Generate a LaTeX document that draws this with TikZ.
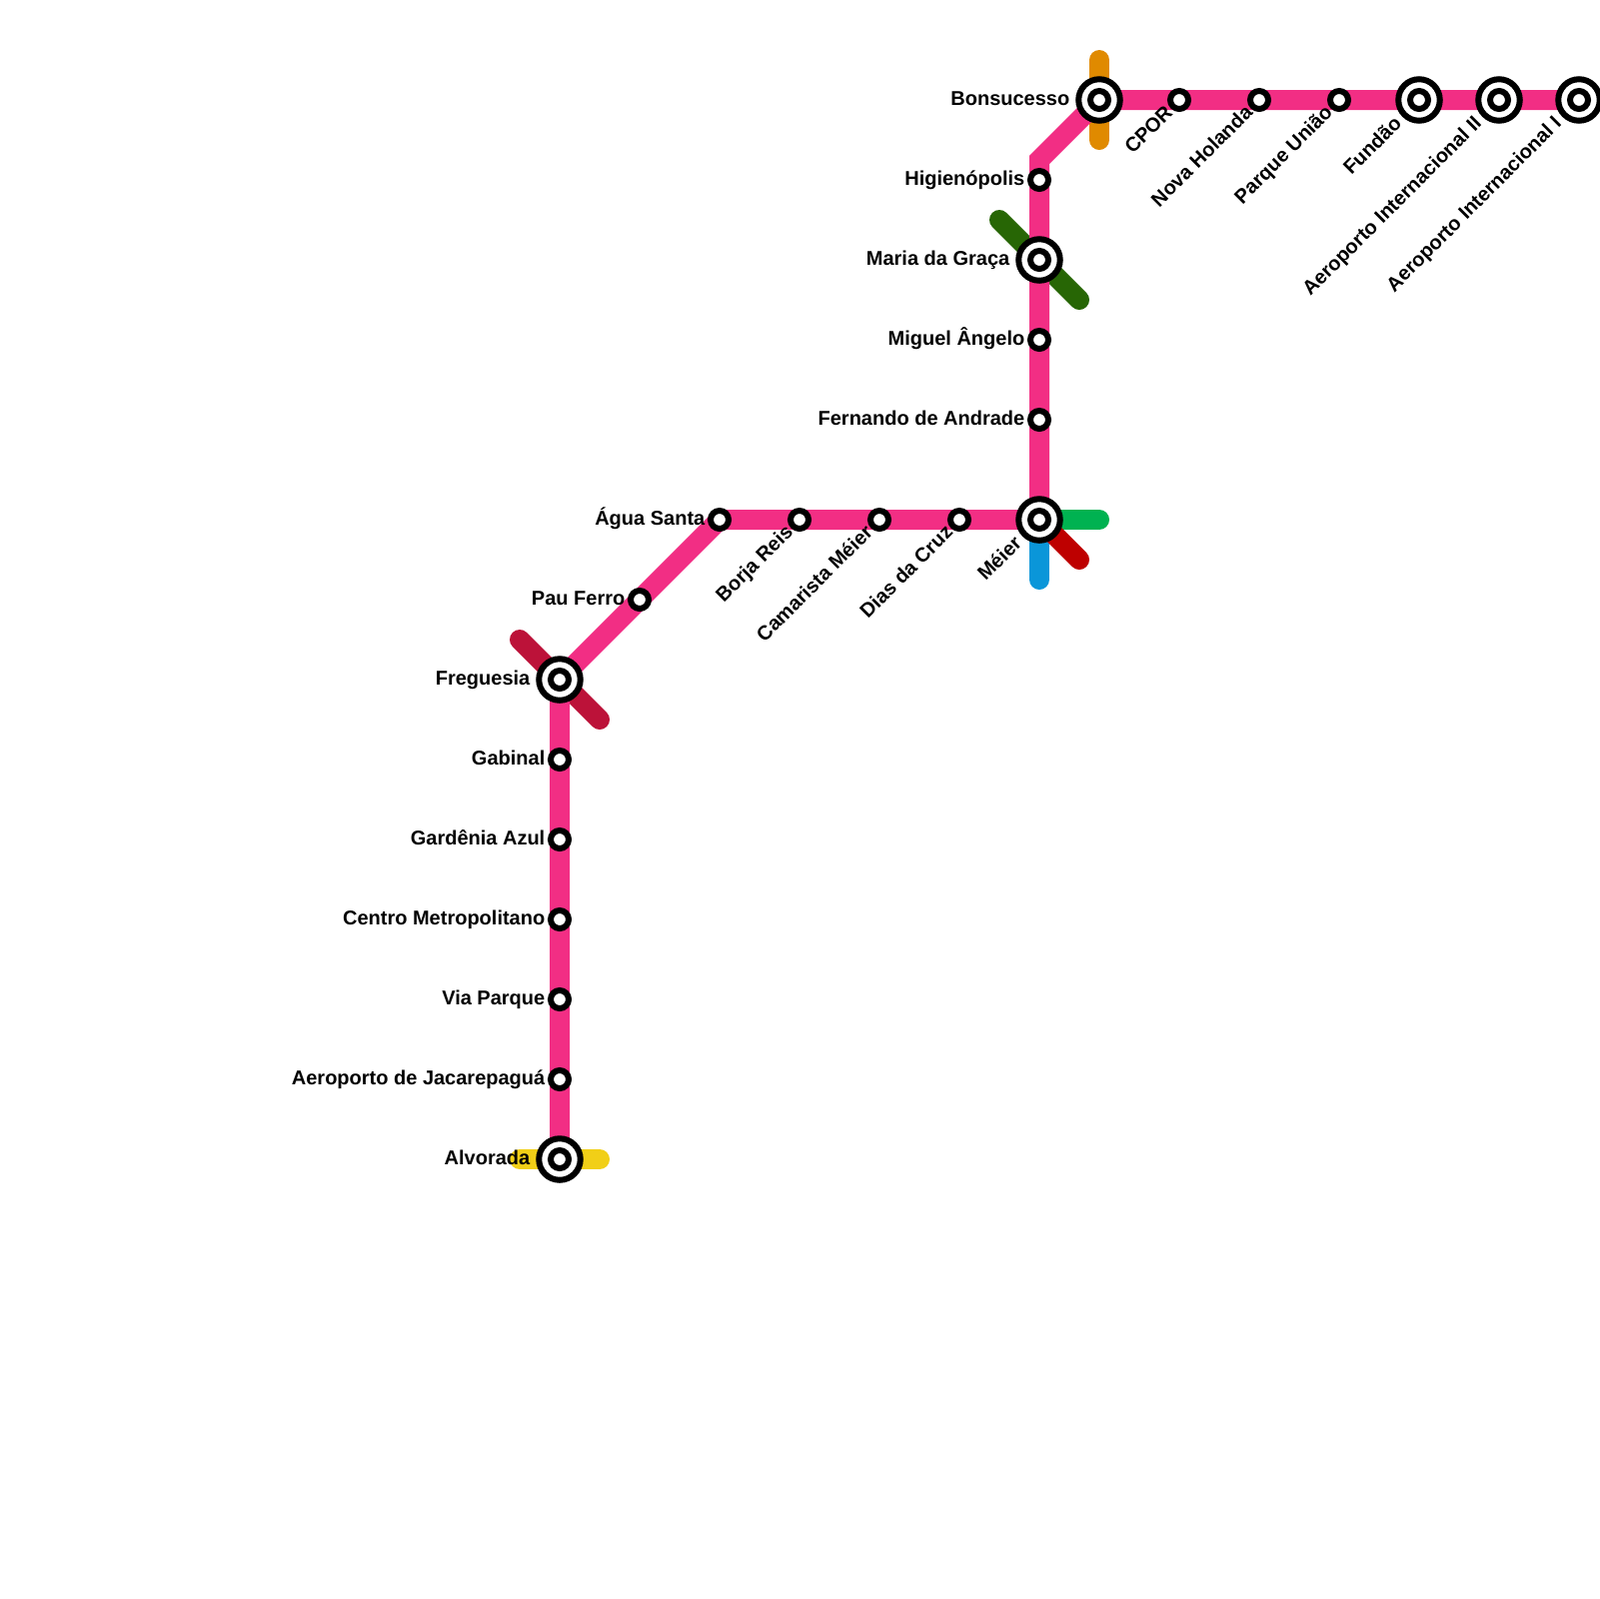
\documentclass[tikz,border=0pt]{standalone}
\usepackage{fontspec}
\setmainfont{Liberation Sans}
\usetikzlibrary{positioning}
\pgfdeclarelayer{lines}
\pgfsetlayers{lines,main}
\definecolor{pinkline}{HTML}{F22E84}
\definecolor{orangeline}{HTML}{E08A00}
\definecolor{forestline}{HTML}{276605}
\definecolor{crimsonline}{HTML}{BC1239}
\definecolor{blueline}{HTML}{0A96D9}
\definecolor{greenline}{HTML}{00B251}
\definecolor{redline}{HTML}{BE0000}
\definecolor{yellowline}{HTML}{F1CF17}
\tikzset{
  stop/.style={circle,draw=black,fill=white,line width=0.6mm,minimum size=1.8mm,inner sep=0pt},
  hub/.style={circle,draw=black,fill=white,line width=0.6mm,minimum size=4.15mm,inner sep=0pt},
  route/.style={line width=2mm},
  stub/.style={line width=2mm,line cap=round},
  tag/.style={inner sep=0pt,text height=1.55mm,text depth=0.45mm,font=\fontsize{5.69pt}{7pt}\selectfont\bfseries},
  tagr/.style={tag,anchor=east,rotate=45}
}
\begin{document}
\begin{tikzpicture}[x=0.1mm,y=-0.1mm]
\useasboundingbox (0,0) rectangle (1600,1600);
% stations
\node[hub] (alvorada) at (560,1160) {};
\node[stop] (alvoradaI) at (560,1160) {};
\node[stop] (aeroportoJ) at (560,1080) {};
\node[stop] (viaparque) at (560,1000) {};
\node[stop] (centro) at (560,920) {};
\node[stop] (gardenia) at (560,840) {};
\node[stop] (gabinal) at (560,760) {};
\node[hub] (freguesia) at (560,680) {};
\node[stop] (freguesiaI) at (560,680) {};
\node[stop] (pauferro) at (640,600) {};
\node[stop] (aguasanta) at (720,520) {};
\node[stop] (borjareis) at (800,520) {};
\node[stop] (camarista) at (880,520) {};
\node[stop] (diascruz) at (960,520) {};
\node[hub] (meier) at (1040,520) {};
\node[stop] (meierI) at (1040,520) {};
\node[stop] (fernando) at (1040,420) {};
\node[stop] (miguel) at (1040,340) {};
\node[hub] (maria) at (1040,260) {};
\node[stop] (mariaI) at (1040,260) {};
\node[stop] (higienopolis) at (1040,180) {};
\coordinate (bend) at (1040,160);
\node[hub] (bonsucesso) at (1100,100) {};
\node[stop] (bonsucessoI) at (1100,100) {};
\node[stop] (cpor) at (1180,100) {};
\node[stop] (novaholanda) at (1260,100) {};
\node[stop] (parqueuniao) at (1340,100) {};
\node[hub] (fundao) at (1420,100) {};
\node[stop] (fundaoI) at (1420,100) {};
\node[hub] (aeroportoII) at (1500,100) {};
\node[stop] (aeroportoIIi) at (1500,100) {};
\node[hub] (aeroportoI) at (1580,100) {};
\node[stop] (aeroportoIi) at (1580,100) {};
% free ends of the other lines
\coordinate (orangeA) at (1100,60);
\coordinate (orangeB) at (1100,140);
\coordinate (forestA) at (1000,220);
\coordinate (forestB) at (1080,300);
\coordinate (crimsonA) at (520,640);
\coordinate (crimsonB) at (600,720);
\coordinate (yellowA) at (520,1160);
\coordinate (yellowB) at (600,1160);
\coordinate (greenB) at (1100,520);
\coordinate (blueB) at (1040,580);
\coordinate (redB) at (1080,560);
% lines
\begin{pgfonlayer}{lines}
\draw[stub,orangeline] (orangeA) -- (orangeB);
\draw[stub,forestline] (forestA) -- (forestB);
\draw[stub,crimsonline] (crimsonA) -- (crimsonB);
\draw[stub,yellowline] (yellowA) -- (yellowB);
\draw[stub,greenline] (meier.center) -- (greenB);
\draw[stub,blueline] (meier.center) -- (blueB);
\draw[stub,redline] (meier.center) -- (redB);
\draw[route,pinkline] (alvorada.center) -- (freguesia.center) -- (aguasanta.center) -- (meier.center) -- (bend) -- (bonsucesso.center) -- (aeroportoI.center);
\end{pgfonlayer}
% names
\node[tag,left=2.9mm of alvorada.center] (alvoradaT) {Alvorada};
\node[tag,left=1.4mm of aeroportoJ.center] (aeroportoJT) {Aeroporto de Jacarepaguá};
\node[tag,left=1.4mm of viaparque.center] (viaparqueT) {Via Parque};
\node[tag,left=1.4mm of centro.center] (centroT) {Centro Metropolitano};
\node[tag,left=1.4mm of gardenia.center] (gardeniaT) {Gardênia Azul};
\node[tag,left=1.4mm of gabinal.center] (gabinalT) {Gabinal};
\node[tag,left=2.9mm of freguesia.center] (freguesiaT) {Freguesia};
\node[tag,left=1.4mm of pauferro.center] (pauferroT) {Pau Ferro};
\node[tag,left=1.4mm of aguasanta.center] (aguasantaT) {Água Santa};
\node[tag,left=1.4mm of fernando.center] (fernandoT) {Fernando de Andrade};
\node[tag,left=1.4mm of miguel.center] (miguelT) {Miguel Ângelo};
\node[tag,left=2.9mm of maria.center] (mariaT) {Maria da Graça};
\node[tag,left=1.4mm of higienopolis.center] (higienopolisT) {Higienópolis};
\node[tag,left=2.9mm of bonsucesso.center] (bonsucessoT) {Bonsucesso};
\node[tagr] (borjareisT) at ([shift={(-9,9.5)}]borjareis.center) {Borja Reis};
\node[tagr] (camaristaT) at ([shift={(-9,9.5)}]camarista.center) {Camarista Méier};
\node[tagr] (diascruzT) at ([shift={(-9,9.5)}]diascruz.center) {Dias da Cruz};
\node[tagr] (meierT) at ([shift={(-20,20.5)}]meier.center) {Méier};
\node[tagr] (cporT) at ([shift={(-9,9.5)}]cpor.center) {CPOR};
\node[tagr] (novaholandaT) at ([shift={(-9,9.5)}]novaholanda.center) {Nova Holanda};
\node[tagr] (parqueuniaoT) at ([shift={(-9,9.5)}]parqueuniao.center) {Parque União};
\node[tagr] (fundaoT) at ([shift={(-20,20.5)}]fundao.center) {Fundão};
\node[tagr] (aeroportoIIT) at ([shift={(-20,20.5)}]aeroportoII.center) {Aeroporto Internacional II};
\node[tagr] (aeroportoIT) at ([shift={(-20,20.5)}]aeroportoI.center) {Aeroporto Internacional I};
\end{tikzpicture}
\end{document}
